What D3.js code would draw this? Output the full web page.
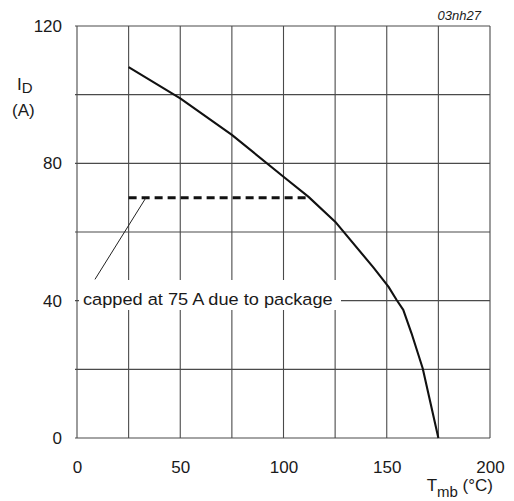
<!DOCTYPE html>
<html>
<head>
<meta charset="utf-8">
<script src="https://cdn.jsdelivr.net/npm/d3@7"></script>
<style>
  body { margin: 0; background: #fff; }
  text { font-family: Arial, "Liberation Sans", sans-serif; fill: #1a1a1a; }
</style>
</head>
<body>
<div id="chart"></div>
<script>
// derating curve
var temps = [25, 50, 75, 100, 112, 125, 143.5, 150.8, 154.8, 158, 162, 167.4, 175],
    current = [108, 98.9, 88.3, 76.1, 70.3, 63, 49.7, 44.1, 40.2, 37.3, 30.5, 20.3, 0];

// package cap line
var capTemps = [25, 112],
    capCurrent = 70;

// leader line of the note: [temp, current]
var leaderStart = [33.4, 70],
    leaderEnd = [8.7, 46.2];

var xTickLabels = [0, 50, 100, 150, 200],
    yTickLabels = [0, 40, 80, 120];

var width = 514,
    height = 501;

// note: "top" would clash with window.top
var plotLeft = 77, plotRight = 490,
    plotTop = 26, plotBottom = 438;

var svg = d3.select('#chart')
    .append('svg')
    .attr('width', width)
    .attr('height', height);

var x = d3.scaleLinear().domain([0, 200]).range([plotLeft, plotRight]);
var y = d3.scaleLinear().domain([0, 120]).range([plotBottom, plotTop]);

// grid
var grid = svg.append('g').attr('stroke', '#4a4a4a').attr('stroke-width', 1.1);
grid.selectAll('.vgrid')
    .data(d3.range(0, 201, 25))
    .enter().append('line')
    .attr('x1', function (d) { return x(d); })
    .attr('x2', function (d) { return x(d); })
    .attr('y1', y(0))
    .attr('y2', y(120));
grid.selectAll('.hgrid')
    .data(d3.range(0, 121, 20))
    .enter().append('line')
    .attr('x1', x(0) - 2)
    .attr('x2', x(200))
    .attr('y1', function (d) { return y(d); })
    .attr('y2', function (d) { return y(d); });

// axes (labels only)
var xAxis = svg.append('g')
    .attr('transform', 'translate(0,' + (plotBottom + 23) + ')')
    .call(d3.axisBottom(x).tickValues(xTickLabels).tickSize(0).tickPadding(0));
var yAxis = svg.append('g')
    .attr('transform', 'translate(' + (plotLeft - 15) + ',0)')
    .call(d3.axisLeft(y).tickValues(yTickLabels).tickSize(0).tickPadding(0));
[xAxis, yAxis].forEach(function (a) {
    a.select('.domain').remove();
    a.selectAll('text')
        .style('font-family', 'Arial, "Liberation Sans", sans-serif')
        .style('font-size', '17px')
        .attr('fill', '#1a1a1a');
});
xAxis.selectAll('text').attr('dy', '0.71em');

// cap line
svg.append('line')
    .attr('x1', x(capTemps[0]))
    .attr('x2', x(capTemps[1]))
    .attr('y1', y(capCurrent))
    .attr('y2', y(capCurrent))
    .attr('stroke', '#111')
    .attr('stroke-width', 3)
    .attr('stroke-dasharray', '8,5');

// derating curve
var line = d3.line()
    .x(function (d) { return x(d[0]); })
    .y(function (d) { return y(d[1]); });
svg.append('path')
    .datum(d3.zip(temps, current))
    .attr('d', line)
    .attr('fill', 'none')
    .attr('stroke', '#111')
    .attr('stroke-width', 2.1)
    .attr('stroke-linejoin', 'round');

// note
svg.append('line')
    .attr('x1', x(leaderStart[0]))
    .attr('y1', y(leaderStart[1]))
    .attr('x2', x(leaderEnd[0]))
    .attr('y2', y(leaderEnd[1]))
    .attr('stroke', '#222')
    .attr('stroke-width', 1);
svg.append('rect')
    .attr('x', plotLeft + 2)
    .attr('y', 280)
    .attr('width', 262)
    .attr('height', 30)
    .attr('fill', '#fff');
svg.append('text')
    .attr('x', 83)
    .attr('y', 305)
    .style('font-size', '17px')
    .attr('transform', 'translate(83,0) scale(1.07,1) translate(-83,0)')
    .text('capped at 75 A due to package');

// axis titles
var yt = svg.append('text')
    .attr('x', 17)
    .attr('y', 90)
    .style('font-size', '17px');
yt.append('tspan').text('I');
yt.append('tspan').attr('dy', 3).style('font-size', '15px').text('D');
svg.append('text')
    .attr('x', 12)
    .attr('y', 116)
    .style('font-size', '17px')
    .text('(A)');

var xt = svg.append('text')
    .attr('x', 493)
    .attr('y', 491)
    .attr('text-anchor', 'end')
    .style('font-size', '17px');
xt.append('tspan').text('T');
xt.append('tspan').attr('dy', 6).style('font-size', '15px').text('mb');
xt.append('tspan').attr('dy', -6).text(' (°C)');

// figure code
svg.append('text')
    .attr('x', 481)
    .attr('y', 20)
    .attr('text-anchor', 'end')
    .style('font-size', '13px')
    .style('font-style', 'italic')
    .attr('fill', '#333')
    .text('03nh27');
</script>
</body>
</html>
